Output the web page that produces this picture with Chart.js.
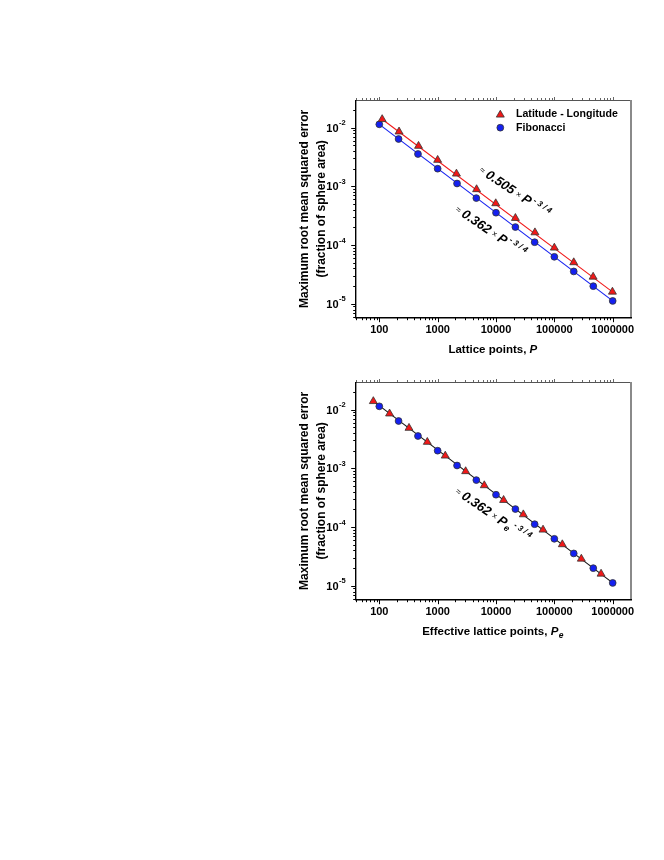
<!DOCTYPE html>
<html lang="en">
<head>
  <meta charset="UTF-8" />
  <title>Lattice RMS error</title>
  <script src="https://cdn.jsdelivr.net/npm/chart.js"></script>
  <style>
    body {
      margin: 0;
      background: #fff;
      width: 664px;
      height: 860px;
      position: relative;
    }
    .panel {
      position: absolute;
      left: 290px;
      width: 360px;
      height: 270px;
    }
    #top { top: 90px; }
    #bottom { top: 372px; }
  </style>
</head>
<body>
  <div class="panel" id="top"><canvas id="chartTop"></canvas></div>
  <div class="panel" id="bottom"><canvas id="chartBottom"></canvas></div>

  <script>
    // lattice sizes
    const latLonP  = [112, 218, 470, 1000, 2100, 4650, 9900, 21500, 46500, 100000, 215000, 462000, 990000];
    const latLonPe = [79, 150, 323, 665, 1350, 3020, 6300, 13500, 29400, 64000, 137000, 290000, 632000];
    const fibP     = [100, 214, 460, 1000, 2150, 4600, 10000, 21500, 46000, 100000, 215000, 465000, 1000000];

    // max RMS error, fraction of sphere area
    const latLonErr = [1.39e-2, 8.55e-3, 4.87e-3, 2.81e-3, 1.64e-3, 8.9e-4, 5.13e-4, 2.88e-4, 1.64e-4, 9.0e-5, 5.07e-5, 2.88e-5, 1.60e-5];
    const fibErr    = [1.14e-2, 6.41e-3, 3.56e-3, 2.0e-3, 1.12e-3, 6.32e-4, 3.56e-4, 2.03e-4, 1.12e-4, 6.32e-5, 3.56e-5, 2.0e-5, 1.12e-5];

    // fitted power-law lines, end points
    const fitLatLonX = [112, 990000];
    const fitLatLonY = [1.39e-2, 1.60e-5];
    const fitFibX    = [100, 1000000];
    const fitFibY    = [1.14e-2, 1.12e-5];
    const fitEffX    = [79, 1000000];
    const fitEffY    = [1.40e-2, 1.12e-5];

    const xTickLabels = ['100', '1000', '10000', '100000', '1000000'];
    const yTickExp = [-5, -4, -3, -2];

    const FONT = '"Liberation Sans", Arial, sans-serif';
    const RED = '#f01818';
    const BLUE = '#1420f0';

    const pts = (xs, ys) => xs.map((x, i) => ({ x: x, y: ys[i] }));

    function decadeTicks(min, max) {
      const out = [];
      for (let n = Math.floor(Math.log10(min)); n <= Math.ceil(Math.log10(max)); n++) {
        for (let k = 1; k <= 9; k++) {
          const v = k * Math.pow(10, n);
          if (v >= min && v <= max) out.push({ v: v, major: k === 1 });
        }
      }
      return out;
    }

    function marker(ctx, style, x, y, r, fill) {
      ctx.beginPath();
      if (style === 'triangle') {
        ctx.moveTo(x, y - r);
        ctx.lineTo(x + r * 0.866, y + r / 2);
        ctx.lineTo(x - r * 0.866, y + r / 2);
        ctx.closePath();
      } else {
        ctx.arc(x, y, r, 0, Math.PI * 2);
      }
      ctx.fillStyle = fill;
      ctx.fill();
      ctx.strokeStyle = '#333';
      ctx.lineWidth = 0.8;
      ctx.stroke();
    }

    // write a run of text pieces along a rotated baseline
    function drawRun(ctx, x, y, angle, parts) {
      ctx.save();
      ctx.translate(x, y);
      ctx.rotate(angle * Math.PI / 180);
      ctx.textBaseline = 'middle';
      ctx.textAlign = 'left';
      ctx.fillStyle = '#000';
      let cx = 0;
      parts.forEach(p => {
        ctx.font = p.font;
        cx += p.gap || 0;
        ctx.fillText(p.text, cx, p.dy || 0);
        cx += ctx.measureText(p.text).width;
      });
      ctx.restore();
      return cx;
    }

    function formulaParts(coef, sub) {
      const parts = [
        { text: '≈', font: '9px ' + FONT, gap: -2.6 },
        { text: coef, font: 'italic bold 13px ' + FONT, gap: 3 },
        { text: '×', font: '9px ' + FONT, gap: 3 },
        { text: 'P', font: 'italic bold 13px ' + FONT, gap: 2.5 }
      ];
      if (sub) parts.push({ text: sub, font: 'italic bold 9px ' + FONT, gap: 0.5, dy: 3.5 });
      parts.push({ text: '- 3 / 4', font: 'italic bold 8px ' + FONT, gap: 2, dy: -4.5 });
      return parts;
    }

    const decorPlugin = {
      id: 'decor',
      afterDraw(chart, args, opts) {
        const { ctx, chartArea: a, scales: { x, y } } = chart;
        ctx.save();

        // tick marks
        ctx.strokeStyle = '#000';
        ctx.lineWidth = 1;
        ctx.beginPath();
        decadeTicks(x.min, x.max).forEach(t => {
          const px = Math.round(x.getPixelForValue(t.v)) + 0.5;
          ctx.moveTo(px, a.bottom);
          ctx.lineTo(px, a.bottom + (t.major ? 4.5 : 2.5));
        });
        decadeTicks(y.min, y.max).forEach(t => {
          const py = Math.round(y.getPixelForValue(t.v)) + 0.5;
          ctx.moveTo(a.left, py);
          ctx.lineTo(a.left - (t.major ? 4.5 : 2.5), py);
        });
        ctx.stroke();

        ctx.strokeStyle = '#666';
        ctx.beginPath();
        decadeTicks(x.min, x.max).forEach(t => {
          const px = Math.round(x.getPixelForValue(t.v)) + 0.5;
          ctx.moveTo(px, a.top);
          ctx.lineTo(px, a.top - (t.major ? 3 : 2));
        });
        ctx.stroke();

        // frame
        ctx.strokeStyle = '#555';
        ctx.lineWidth = 1;
        ctx.beginPath();
        ctx.moveTo(a.left, a.top + 0.5);
        ctx.lineTo(a.right, a.top + 0.5);
        ctx.stroke();
        ctx.strokeStyle = '#8a8a8a';
        ctx.lineWidth = 2;
        ctx.beginPath();
        ctx.moveTo(a.right + 1, a.top);
        ctx.lineTo(a.right + 1, a.bottom);
        ctx.stroke();
        ctx.strokeStyle = '#000';
        ctx.lineWidth = 1.4;
        ctx.beginPath();
        ctx.moveTo(a.left, a.top);
        ctx.lineTo(a.left, a.bottom);
        ctx.lineTo(a.right + 2, a.bottom);
        ctx.stroke();

        // y tick labels 10^n
        ctx.fillStyle = '#000';
        ctx.textBaseline = 'middle';
        yTickExp.forEach(n => {
          const py = y.getPixelForValue(Math.pow(10, n));
          ctx.font = 'bold 7.5px ' + FONT;
          const sup = String(n);
          const sw = ctx.measureText(sup).width;
          const end = a.left - 10;
          ctx.textAlign = 'left';
          ctx.fillText(sup, end - sw, py - 4.5);
          ctx.font = 'bold 11px ' + FONT;
          ctx.textAlign = 'right';
          ctx.fillText('10', end - sw - 0.5, py + 1);
        });

        // x axis title with italic symbol
        ctx.font = 'bold 11.5px ' + FONT;
        const t1 = opts.xTitle;
        const w1 = ctx.measureText(t1).width;
        ctx.font = 'italic bold 11.5px ' + FONT;
        const w2 = ctx.measureText('P').width;
        let w3 = 0;
        if (opts.xSub) {
          ctx.font = 'italic bold 8.5px ' + FONT;
          w3 = ctx.measureText(opts.xSub).width + 0.5;
        }
        const cx = (a.left + a.right) / 2 - (w1 + w2 + w3) / 2;
        const cy = a.bottom + 32.3;
        drawRun(ctx, cx, cy, 0, [
          { text: t1, font: 'bold 11.5px ' + FONT },
          { text: 'P', font: 'italic bold 11.5px ' + FONT }
        ].concat(opts.xSub ? [{ text: opts.xSub, font: 'italic bold 8.5px ' + FONT, gap: 0.5, dy: 3.5 }] : []));

        // power-law labels, anchored in data space
        opts.formulas.forEach(f => {
          drawRun(ctx, x.getPixelForValue(f.at[0]), y.getPixelForValue(f.at[1]), f.angle, formulaParts(f.coef, f.sub));
        });

        // legend inside the plot
        if (opts.legend) {
          const lx = a.left + 144.6;
          let ly = a.top + 14;
          opts.legend.forEach(item => {
            marker(ctx, item.style, lx, ly + (item.style === 'triangle' ? 0.8 : 0), item.style === 'triangle' ? 4.6 : 3.4, item.color);
            ctx.fillStyle = '#000';
            ctx.font = 'bold 10.6px ' + FONT;
            ctx.textAlign = 'left';
            ctx.textBaseline = 'middle';
            ctx.fillText(item.label, lx + 15.7, ly);
            ly += 13.7;
          });
        }
        ctx.restore();
      }
    };

    function makeChart(id, datasets, decor) {
      return new Chart(document.getElementById(id), {
        type: 'scatter',
        data: { datasets: datasets },
        options: {
          responsive: true,
          maintainAspectRatio: false,
          animation: false,
          layout: { padding: { top: 10, right: 20, left: 0, bottom: 0 } },
          plugins: {
            legend: { display: false },
            tooltip: { enabled: false },
            decor: decor
          },
          scales: {
            x: {
              type: 'logarithmic',
              position: 'bottom',
              min: 39.4,
              max: 1.98e6,
              grid: { display: false, drawTicks: false, tickLength: 0 },
              border: { display: false },
              ticks: {
                autoSkip: false,
                maxRotation: 0,
                padding: 6,
                color: '#000',
                font: { family: FONT, size: 11, weight: 'bold' },
                callback: v => {
                  const s = String(Math.round(v));
                  return xTickLabels.includes(s) && Math.abs(v - Math.round(v)) < 1e-6 ? s : '';
                }
              },
              afterFit: s => { s.height = 42.3; }
            },
            y: {
              type: 'logarithmic',
              min: 5.8e-6,
              max: 0.0296,
              grid: { display: false, drawTicks: false, tickLength: 0 },
              border: { display: false },
              ticks: { display: false },
              title: {
                display: true,
                text: ['Maximum root mean squared error', '(fraction of sphere area)'],
                color: '#000',
                font: { family: FONT, size: 12, weight: 'bold', lineHeight: 1.4 },
                padding: { top: 6.6, bottom: 0 }
              },
              afterFit: s => { s.width = 65.7; }
            }
          }
        },
        plugins: [decorPlugin]
      });
    }

    const triStyle = {
      pointStyle: 'triangle', pointRadius: 4.6, pointHoverRadius: 4.6,
      backgroundColor: RED, borderColor: '#333', borderWidth: 0.8, showLine: false
    };
    const dotStyle = {
      pointStyle: 'circle', pointRadius: 3.4, pointHoverRadius: 3.4,
      backgroundColor: BLUE, borderColor: '#333', borderWidth: 0.8, showLine: false
    };
    const fitStyle = color => ({
      showLine: true, pointRadius: 0, borderColor: color, borderWidth: 1.1, fill: false
    });

    makeChart('chartTop', [
      Object.assign({ label: 'Latitude - Longitude', data: pts(latLonP, latLonErr) }, triStyle),
      Object.assign({ label: 'Fibonacci', data: pts(fibP, fibErr) }, dotStyle),
      Object.assign({ label: 'fit lat-lon', data: pts(fitLatLonX, fitLatLonY) }, fitStyle(RED)),
      Object.assign({ label: 'fit fib', data: pts(fitFibX, fitFibY) }, fitStyle(BLUE))
    ], {
      xTitle: 'Lattice points, ',
      legend: [
        { label: 'Latitude - Longitude', style: 'triangle', color: RED },
        { label: 'Fibonacci', style: 'circle', color: BLUE }
      ],
      formulas: [
        { coef: '0.505', at: [5840, 1.85e-3], angle: 34 },
        { coef: '0.362', at: [2260, 3.95e-4], angle: 34 }
      ]
    });

    makeChart('chartBottom', [
      Object.assign({ label: 'Latitude - Longitude', data: pts(latLonPe, latLonErr) }, triStyle),
      Object.assign({ label: 'Fibonacci', data: pts(fibP, fibErr) }, dotStyle),
      Object.assign({ label: 'fit', data: pts(fitEffX, fitEffY) }, fitStyle('#111'))
    ], {
      xTitle: 'Effective lattice points, ',
      xSub: 'e',
      formulas: [
        { coef: '0.362', sub: 'e', at: [2260, 3.95e-4], angle: 34 }
      ]
    });
  </script>
</body>
</html>
